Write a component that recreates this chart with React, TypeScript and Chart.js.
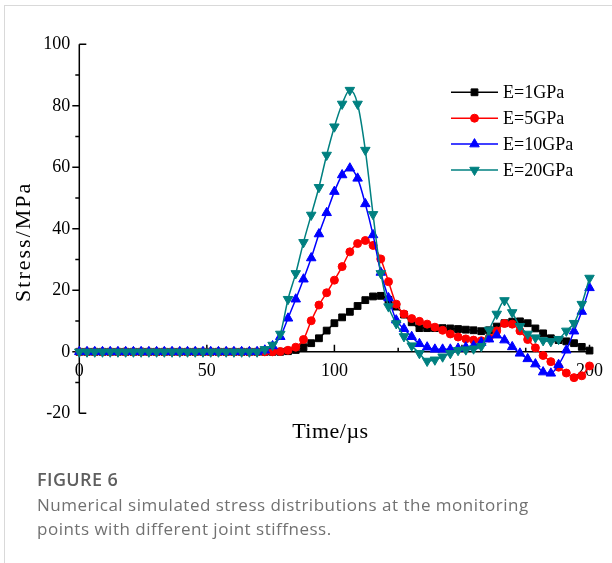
import React, { useEffect, useRef } from 'react';
import { Chart, registerables } from 'chart.js';
import { drawPoint } from 'chart.js/helpers';

Chart.register(...registerables);

// Time samples (µs)
const TIME = [
  0, 3.03, 6.06, 9.09, 12.12, 15.15, 18.18, 21.21, 24.24, 27.27,
  30.3, 33.33, 36.36, 39.39, 42.42, 45.45, 48.48, 51.52, 54.55, 57.58,
  60.61, 63.64, 66.67, 69.7, 72.73, 75.76, 78.79, 81.82, 84.85, 87.88,
  90.91, 93.94, 96.97, 100, 103.03, 106.06, 109.09, 112.12, 115.15, 118.18,
  121.21, 124.24, 127.27, 130.3, 133.33, 136.36, 139.39, 142.42, 145.45, 148.48,
  151.52, 154.55, 157.58, 160.61, 163.64, 166.67, 169.7, 172.73, 175.76, 178.79,
  181.82, 184.85, 187.88, 190.91, 193.94, 196.97, 200,
];

const E1 = [
  0, 0, 0, 0, 0, 0, 0, 0, 0, 0, 0, 0, 0, 0, 0, 0, 0, 0, 0, 0, 0, 0, 0, 0,
  0, 0, 0, 0.2, 0.6, 1.5, 2.8, 4.4, 6.9, 9.3, 11.2, 13.0, 14.9, 16.8, 18.0, 18.2,
  16.9, 14.7, 12.1, 9.6, 7.7, 7.7, 7.7, 7.7, 7.6, 7.4, 7.2, 7.0, 6.7, 7.0, 8.2,
  9.3, 9.8, 9.9, 9.3, 7.6, 6.0, 4.4, 3.8, 3.4, 2.8, 1.6, 0.4,
];

const E5 = [
  0, 0, 0, 0, 0, 0, 0, 0, 0, 0, 0, 0, 0, 0, 0, 0, 0, 0, 0, 0, 0, 0, 0, 0,
  0, 0, 0.1, 0.5, 1.5, 4.0, 10.1, 15.2, 19.2, 23.3, 27.7, 32.5, 35.2, 36.2, 34.6, 30.2,
  22.8, 15.5, 12.3, 10.8, 9.9, 9.0, 8.0, 7.0, 5.8, 4.8, 4.2, 3.8, 3.6, 4.5, 6.8,
  9.2, 9.0, 6.8, 4.0, 1.3, -1.2, -3.2, -5.0, -6.9, -8.4, -7.8, -4.6,
];

const E10 = [
  0, 0, 0, 0, 0, 0, 0, 0, 0, 0, 0, 0, 0, 0, 0, 0, 0, 0, 0, 0, 0, 0, 0, 0,
  0.5, 1.9, 4.9, 10.9, 17.1, 23.6, 30.5, 38.3, 45.2, 52.1, 57.5, 59.7, 56.4, 48.1, 38.0, 25.8,
  17.5, 10.3, 7.5, 4.9, 2.6, 1.5, 0.8, 0.8, 0.8, 1.1, 1.5, 1.9, 3.0, 4.1, 5.4,
  3.8, 1.6, -0.5, -2.3, -4.0, -6.6, -7.0, -4.2, 0.5, 6.7, 13.1, 20.8,
];

const E20 = [
  0, 0, 0, 0, 0, 0, 0, 0, 0, 0, 0, 0, 0, 0, 0, 0, 0, 0, 0, 0, 0, 0, 0, 0,
  0.8, 2.2, 5.8, 17.1, 25.5, 35.6, 44.5, 53.5, 64.0, 73.2, 80.6, 85.1, 80.6, 65.6, 44.7, 25.5,
  14.7, 9.2, 5.0, 2.0, -0.5, -3.0, -2.6, -1.6, -0.5, 0.5, 0.7, 1.0, 1.8, 7.1, 12.3,
  16.7, 12.8, 8.3, 5.8, 4.6, 3.7, 3.4, 4.1, 6.8, 9.3, 15.5, 24.0,
];

const SERIES_LABELS = ['E=1GPa', 'E=5GPa', 'E=10GPa', 'E=20GPa'];
const X_TITLE = 'Time/µs';
const Y_TITLE = 'Stress/MPa';

const SERIF = '"Liberation Serif", "Times New Roman", serif';

const STYLES = [
  { color: '#000000', pointStyle: 'rect', radius: 4.8, rotation: 0 },
  { color: '#ff0000', pointStyle: 'circle', radius: 4, rotation: 0 },
  { color: '#0000ff', pointStyle: 'triangle', radius: 5.5, rotation: 0 },
  { color: '#008080', pointStyle: 'triangle', radius: 5.5, rotation: 180 },
];

const axesPlugin = {
  id: 'originAxes',
  beforeDatasetsDraw(chart: any) {
    const { ctx } = chart;
    const x = chart.scales.x;
    const y = chart.scales.y;
    const x0 = x.getPixelForValue(0);
    const x1 = x.getPixelForValue(200);
    const yz = y.getPixelForValue(0);
    const yt = y.getPixelForValue(100);
    const yb = y.getPixelForValue(-20);
    ctx.save();
    ctx.strokeStyle = '#000';
    ctx.lineWidth = 1.5;
    ctx.beginPath();
    ctx.moveTo(x0, yt);
    ctx.lineTo(x0, yb);
    ctx.moveTo(x0, yz);
    ctx.lineTo(x1, yz);
    // y ticks
    for (let v = -20; v <= 100; v += 10) {
      const py = y.getPixelForValue(v);
      if (v === 100 || v === -20) {
        ctx.moveTo(x0, py);
        ctx.lineTo(x0 + 7, py);
      } else if (v % 20 === 0) {
        ctx.moveTo(x0 - 7, py);
        ctx.lineTo(x0, py);
      } else {
        ctx.moveTo(x0 - 4, py);
        ctx.lineTo(x0, py);
      }
    }
    // x ticks
    for (let v = 25; v <= 200; v += 25) {
      const px = x.getPixelForValue(v);
      const len = v % 50 === 0 ? 7 : 4;
      ctx.moveTo(px, yz - len);
      ctx.lineTo(px, yz);
    }
    ctx.stroke();
    ctx.restore();
  },
  afterDatasetsDraw(chart: any) {
    const { ctx, chartArea } = chart;
    ctx.save();
    // axis titles
    ctx.fillStyle = '#000';
    ctx.font = `22px ${SERIF}`;
    ctx.textAlign = 'center';
    ctx.textBaseline = 'middle';
    if ('letterSpacing' in ctx) (ctx as any).letterSpacing = '0.5px';
    ctx.fillText(X_TITLE, (chartArea.left + chartArea.right) / 2 - 4, chartArea.bottom + 19);
    if ('letterSpacing' in ctx) (ctx as any).letterSpacing = '2px';
    ctx.save();
    ctx.translate(24, (chartArea.top + chartArea.bottom) / 2 + 13);
    ctx.rotate(-Math.PI / 2);
    ctx.fillText(Y_TITLE, 0, 0);
    ctx.restore();
    if ('letterSpacing' in ctx) (ctx as any).letterSpacing = '0px';

    // legend
    const lx = chartArea.right - 138.5;
    const ly = chartArea.top + 48;
    ctx.font = `18px ${SERIF}`;
    ctx.textAlign = 'left';
    ctx.textBaseline = 'middle';
    SERIES_LABELS.forEach((label, k) => {
      const s = STYLES[k];
      const yy = ly + k * 25.9;
      ctx.strokeStyle = s.color;
      ctx.fillStyle = s.color;
      ctx.lineWidth = 1.5;
      ctx.beginPath();
      ctx.moveTo(lx, yy);
      ctx.lineTo(lx + 47, yy);
      ctx.stroke();
      ctx.lineWidth = 1;
      drawPoint(ctx, { pointStyle: s.pointStyle, rotation: s.rotation, radius: s.radius, borderWidth: 1 } as any, lx + 23.5, yy);
      ctx.fillStyle = '#000';
      ctx.fillText(label, lx + 52, yy + 1);
    });
    ctx.restore();
  },
};

export default function App() {
  const ref = useRef<HTMLCanvasElement>(null);

  useEffect(() => {
    if (!ref.current) return;
    const seriesValues = [E1, E5, E10, E20];
    const datasets = seriesValues.map((vals, k) => {
      const s = STYLES[k];
      return {
        label: SERIES_LABELS[k],
        data: TIME.map((t, i) => ({ x: t, y: vals[i] })),
        borderColor: s.color,
        backgroundColor: s.color,
        borderWidth: 1.5,
        pointStyle: s.pointStyle,
        pointRotation: s.rotation,
        pointRadius: s.radius,
        pointBorderWidth: 1,
        pointBorderColor: s.color,
        pointBackgroundColor: s.color,
        cubicInterpolationMode: 'monotone',
        clip: false,
        order: 3 - k,
      };
    });

    const chart = new Chart(ref.current, {
      type: 'line',
      data: { datasets } as any,
      options: {
        animation: false,
        responsive: false,
        maintainAspectRatio: false,
        events: [],
        layout: { padding: { left: 0, right: 18.7, top: 44.3, bottom: 149.7 } },
        plugins: { legend: { display: false }, tooltip: { enabled: false } },
        scales: {
          x: {
            type: 'linear',
            min: 0,
            max: 200,
            position: { y: 0 } as any,
            grid: { display: false, drawTicks: false },
            border: { display: false },
            ticks: {
              stepSize: 50,
              autoSkip: false,
              maxRotation: 0,
              padding: 9,
              color: '#000',
              font: { family: SERIF, size: 18 },
              callback: (v: any) => String(v),
            },
          },
          y: {
            type: 'linear',
            min: -20,
            max: 100,
            position: 'left',
            afterFit: (s: any) => {
              s.width = 79.3;
            },
            grid: { display: false, drawTicks: false },
            border: { display: false },
            ticks: {
              stepSize: 20,
              padding: 9,
              color: '#000',
              font: { family: SERIF, size: 18 },
              callback: (v: any) => String(v),
            },
          },
        },
      } as any,
      plugins: [axesPlugin],
    });
    return () => chart.destroy();
  }, []);

  return (
    <div style={{ position: 'absolute', left: 0, top: 0, width: 612, height: 563, overflow: 'hidden', background: '#fff' }}>
      <div
        style={{
          position: 'absolute',
          left: 4,
          top: 5,
          width: 700,
          height: 700,
          borderLeft: '1px solid #d9d9d9',
          borderTop: '1px solid #d9d9d9',
        }}
      />
      <canvas ref={ref} width={612} height={563} style={{ position: 'absolute', left: 0, top: 0 }} />
      <div
        style={{
          position: 'absolute',
          left: 37,
          top: 467,
          font: '600 18px "Open Sans", sans-serif',
          lineHeight: '24px',
          letterSpacing: '0.4px',
          color: '#5f5f5f',
          whiteSpace: 'nowrap',
        }}
      >
        FIGURE 6
      </div>
      <div
        style={{
          position: 'absolute',
          left: 37,
          top: 493,
          font: '17px "Open Sans", sans-serif',
          lineHeight: '24px',
          letterSpacing: '0.5px',
          color: '#717171',
          whiteSpace: 'nowrap',
        }}
      >
        Numerical simulated stress distributions at the monitoring
        <br />
        points with different joint stiffness.
      </div>
    </div>
  );
}
